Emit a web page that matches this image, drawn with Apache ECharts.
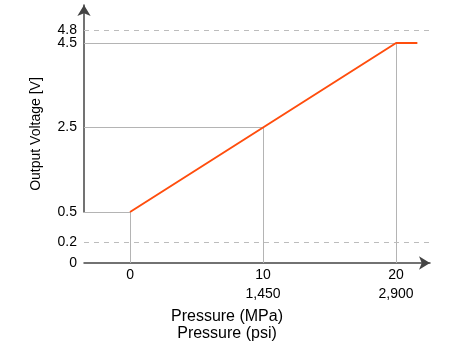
<!DOCTYPE html>
<html>
<head>
<meta charset="utf-8">
<script src="https://cdn.jsdelivr.net/npm/echarts@6/dist/echarts.min.js"></script>
<style>html,body{margin:0;padding:0;background:#fff}#c{width:455px;height:341px}</style>
</head>
<body>
<div id="c"></div>
<script>
const pressureMPa = [0, 10, 20, 21.6];
const voltage = [0.5, 2.5, 4.5, 4.5];
const xTicks = [0, 10, 20];
const psiLabels = ['', '1,450', '2,900'];
const yTicks = [0, 0.2, 0.5, 2.5, 4.5];
const dashedLevels = [0.2, 4.8];
const dashedLabels = ['', '4.8'];
const guidePoints = [0, 1, 2];

const X_MIN = -3.46, X_MAX = 22.55, Y_MIN = 0, Y_MAX = 5.399;
const FONT = 'Liberation Sans, Arial, sans-serif';

const chart = echarts.init(document.getElementById('c'), null, {renderer: 'canvas'});

const guideLines = [];
guidePoints.forEach(i => {
  const x = pressureMPa[i], y = voltage[i];
  guideLines.push([{coord: [x, Y_MIN]}, {coord: [x, y]}]);
  guideLines.push([{coord: [X_MIN, y]}, {coord: [x, y]}]);
});

const dashed = dashedLevels.map((v, i) => ({
  yAxis: v,
  lineStyle: {type: [5, 5], color: '#bcbcbc'},
  label: dashedLabels[i] ? {show: true, position: 'start', distance: 7, formatter: dashedLabels[i],
    fontFamily: FONT, fontSize: 14, color: '#000'} : {show: false}
}));

chart.setOption({
  animation: false,
  grid: {left: 84, right: 25, top: 5, bottom: 78, containLabel: false, outerBoundsMode: 'none'},
  xAxis: {
    type: 'value', min: X_MIN, max: X_MAX,
    name: 'Pressure (MPa)\nPressure (psi)', nameLocation: 'middle', nameGap: 25,
    nameTextStyle: {fontFamily: FONT, fontSize: 16, color: '#000', lineHeight: 17, padding: [0, 60, 0, 0]},
    axisLine: {show: true, onZero: false, symbol: ['none', 'arrow'], symbolSize: [10, 11],
      lineStyle: {color: '#444', width: 1.5}},
    axisTick: {show: false, customValues: xTicks},
    splitLine: {show: false},
    axisLabel: {customValues: xTicks, fontFamily: FONT, fontSize: 14, color: '#000', margin: 3, lineHeight: 18.5,
      formatter: v => { const i = xTicks.indexOf(v); return psiLabels[i] ? v + '\n' + psiLabels[i] : String(v); }}
  },
  yAxis: {
    type: 'value', min: Y_MIN, max: Y_MAX,
    breaks: [{start: 0, end: 0.5, gap: 1.207}],
    breakArea: {show: false},
    name: 'Output Voltage [V]', nameLocation: 'middle', nameGap: 41, nameRotate: 90,
    nameTextStyle: {fontFamily: FONT, fontSize: 14, color: '#000'},
    axisLine: {show: true, onZero: false, symbol: ['none', 'arrow'], symbolSize: [10, 11],
      lineStyle: {color: '#444', width: 1.5}},
    axisTick: {show: false, customValues: yTicks},
    splitLine: {show: false},
    axisLabel: {customValues: yTicks, hideOverlap: false, fontFamily: FONT, fontSize: 14, color: '#000', margin: 7,
      formatter: v => String(v)}
  },
  series: [
    {
      type: 'line', data: pressureMPa.map((x, i) => [x, voltage[i]]),
      symbol: 'none', z: 5,
      lineStyle: {color: '#ff4d0d', width: 2},
      markLine: {
        silent: true, symbol: 'none', animation: false,
        label: {show: false},
        lineStyle: {color: '#b4b4b4', width: 1, type: 'solid'},
        data: guideLines.concat(dashed)
      }
    }
  ]
});
</script>
</body>
</html>
